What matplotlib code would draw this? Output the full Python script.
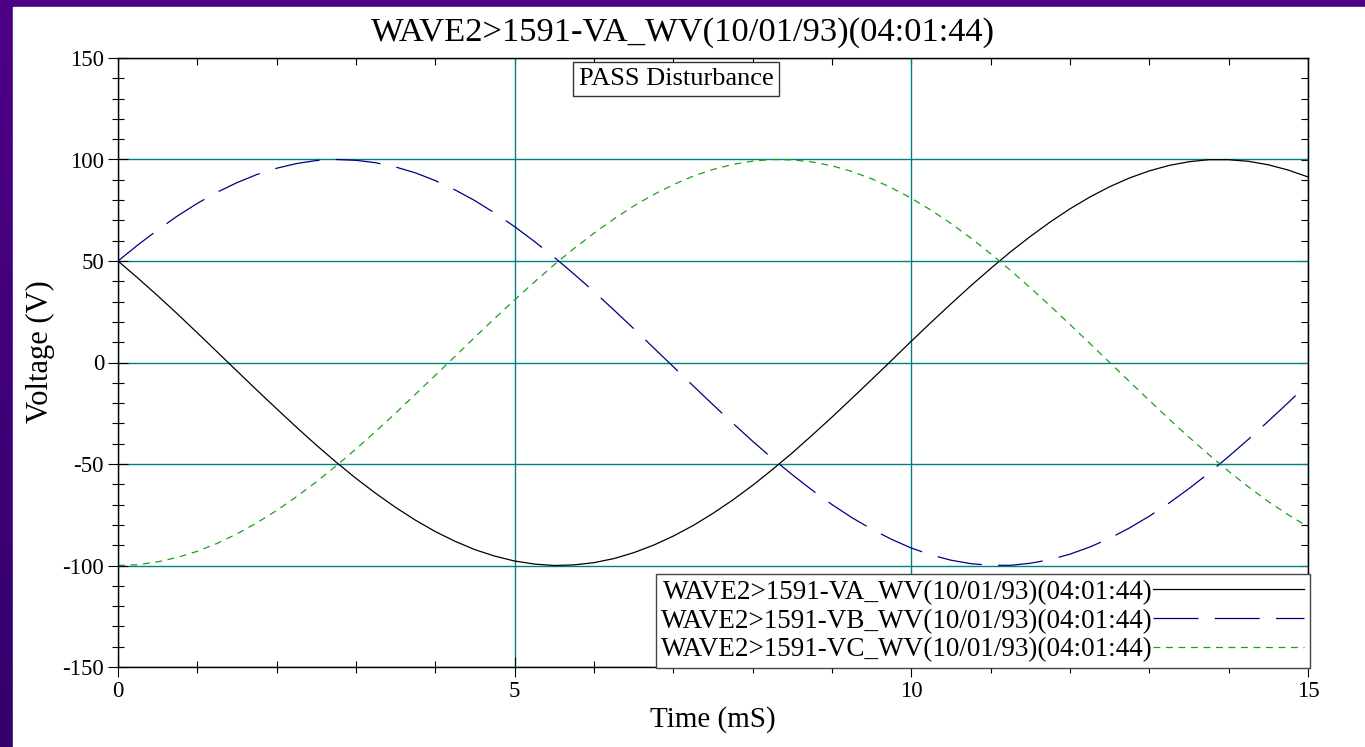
import matplotlib
matplotlib.use('Agg')
import matplotlib.pyplot as plt
import numpy as np
from matplotlib.patches import Rectangle
from matplotlib.colors import LinearSegmentedColormap
from matplotlib.ticker import MultipleLocator, NullFormatter

plt.rcParams['font.family'] = ['Liberation Serif', 'DejaVu Serif']
plt.rcParams['axes.unicode_minus'] = False

title = 'WAVE2>1591-VA_WV(10/01/93)(04:01:44)'
labels = ['WAVE2>1591-VA_WV(10/01/93)(04:01:44)',
          'WAVE2>1591-VB_WV(10/01/93)(04:01:44)',
          'WAVE2>1591-VC_WV(10/01/93)(04:01:44)']

# time (ms) and phase voltages (V), every 0.25 ms
t_ms = [0, 0.25, 0.5, 0.75, 1, 1.25, 1.5, 1.75, 2, 2.25, 2.5, 2.75,
        3, 3.25, 3.5, 3.75, 4, 4.25, 4.5, 4.75, 5, 5.25, 5.5, 5.75,
        6, 6.25, 6.5, 6.75, 7, 7.25, 7.5, 7.75, 8, 8.25, 8.5, 8.75,
        9, 9.25, 9.5, 9.75, 10, 10.25, 10.5, 10.75, 11, 11.25, 11.5, 11.75,
        12, 12.25, 12.5, 12.75, 13, 13.25, 13.5, 13.75, 14, 14.25, 14.5, 14.75, 15]
va = [50.0, 41.6, 32.9, 23.9, 14.6, 5.2, -4.2, -13.6, -22.8, -31.9, -40.7, -49.1,
      -57.1, -64.5, -71.4, -77.7, -83.3, -88.1, -92.2, -95.4, -97.8, -99.3, -100.0, -99.7,
      -98.6, -96.6, -93.7, -90.0, -85.5, -80.3, -74.3, -67.7, -60.5, -52.7, -44.5, -35.8,
      -26.9, -17.7, -8.4, 1.0, 10.5, 19.8, 28.9, 37.8, 46.3, 54.5, 62.1, 69.2,
      75.7, 81.5, 86.6, 90.9, 94.4, 97.1, 98.9, 99.9, 99.9, 99.1, 97.4, 94.8, 91.4]
vb = [50.0, 57.9, 65.3, 72.2, 78.4, 83.9, 88.6, 92.6, 95.7, 98.0, 99.5, 100.0,
      99.6, 98.4, 96.3, 93.4, 89.6, 85.0, 79.7, 73.6, 66.9, 59.6, 51.8, 43.5,
      34.9, 25.9, 16.7, 7.3, -2.1, -11.5, -20.8, -29.9, -38.8, -47.3, -55.3, -62.9,
      -70.0, -76.4, -82.1, -87.1, -91.4, -94.8, -97.4, -99.1, -99.9, -99.9, -98.9, -97.1,
      -94.4, -90.9, -86.6, -81.5, -75.7, -69.2, -62.1, -54.5, -46.3, -37.8, -28.9, -19.8, -10.5]
vc = [-100.0, -99.6, -98.2, -96.0, -93.0, -89.1, -84.4, -79.0, -72.9, -66.1, -58.8, -50.9,
      -42.6, -33.9, -24.9, -15.6, -6.3, 3.1, 12.5, 21.8, 30.9, 39.7, 48.2, 56.2,
      63.7, 70.7, 77.1, 82.7, 87.6, 91.8, 95.1, 97.6, 99.2, 100.0, 99.8, 98.8,
      96.9, 94.1, 90.5, 86.1, 80.9, 75.0, 68.5, 61.3, 53.6, 45.4, 36.8, 27.9,
      18.7, 9.4, 0.0, -9.4, -18.7, -27.9, -36.8, -45.4, -53.6, -61.3, -68.5, -75.0, -80.9]

W, H = 1365, 747
fig = plt.figure(figsize=(W / 100, H / 100), dpi=100)

# purple frame + white slide area
bg = fig.add_axes([0, 0, 1, 1], zorder=-10)
bg.axis('off')
purple = LinearSegmentedColormap.from_list('purple', ['#4e0087', '#34006b'])
bg.imshow(np.linspace(0, 1, 256)[:, None], aspect='auto', cmap=purple, extent=[0, 1, 0, 1])
bg.add_patch(Rectangle((13 / W, 0), 1, 1 - 7 / H, color='white'))
bg.set_xlim(0, 1)
bg.set_ylim(0, 1)

ax = fig.add_axes([118 / W, 1 - 667 / H, (1308 - 118) / W, (667 - 58) / H])
ax.plot(t_ms, va, color='black', lw=0.9, label=labels[0])
ax.plot(t_ms, vb, color='#000080', lw=0.9, dashes=(36, 13), label=labels[1])
ax.plot(t_ms, vc, color='#1ca01c', lw=0.9, dashes=(5.5, 4.5), label=labels[2])

ax.set_xlim(0, 15)
ax.set_ylim(-150, 150)
ax.xaxis.set_major_locator(MultipleLocator(5))
ax.xaxis.set_minor_locator(MultipleLocator(1))
ax.yaxis.set_major_locator(MultipleLocator(50))
ax.yaxis.set_minor_locator(MultipleLocator(10))
ax.grid(which='major', color='#008080', lw=1)
ax.tick_params(which='both', direction='inout', top=False, right=False,
               labelsize=16.5, width=0.8, color='black')
ax.tick_params(which='major', length=14, pad=3)
ax.tick_params(which='minor', length=8)
for s in ax.spines.values():
    s.set_linewidth(1)

# inward ticks on top and right
sx = ax.secondary_xaxis('top')
sx.xaxis.set_major_locator(MultipleLocator(5))
sx.xaxis.set_minor_locator(MultipleLocator(1))
sx.xaxis.set_major_formatter(NullFormatter())
sx.tick_params(which='both', direction='in', length=5, width=0.8)
sy = ax.secondary_yaxis('right')
sy.yaxis.set_major_locator(MultipleLocator(50))
sy.yaxis.set_minor_locator(MultipleLocator(10))
sy.yaxis.set_major_formatter(NullFormatter())
sy.tick_params(which='both', direction='in', length=5, width=0.8)

leg = ax.legend(loc='lower right', bbox_to_anchor=(1.0015, -0.0015), markerfirst=False,
                handlelength=5.6, handletextpad=0, fontsize=19.5, fancybox=False,
                framealpha=1, edgecolor='#444444', borderpad=0.2, labelspacing=0.14,
                borderaxespad=0)
leg.get_frame().set_linewidth(1)

fig.text(676 / W, 1 - 79 / H, 'PASS Disturbance', fontsize=19, ha='center', va='center',
         bbox=dict(boxstyle='square,pad=0.22', fc='white', ec='#333333', lw=1))
fig.text(0.5, 1 - 33 / H, title, fontsize=24.8, ha='center', va='center')
fig.text(40 / W, 1 - 352 / H, 'Voltage (V)', fontsize=22, rotation=90, ha='center', va='center')
fig.text(713 / W, 1 - 720 / H, 'Time (mS)', fontsize=21, ha='center', va='center')

fig.savefig('out.png', dpi=100)
